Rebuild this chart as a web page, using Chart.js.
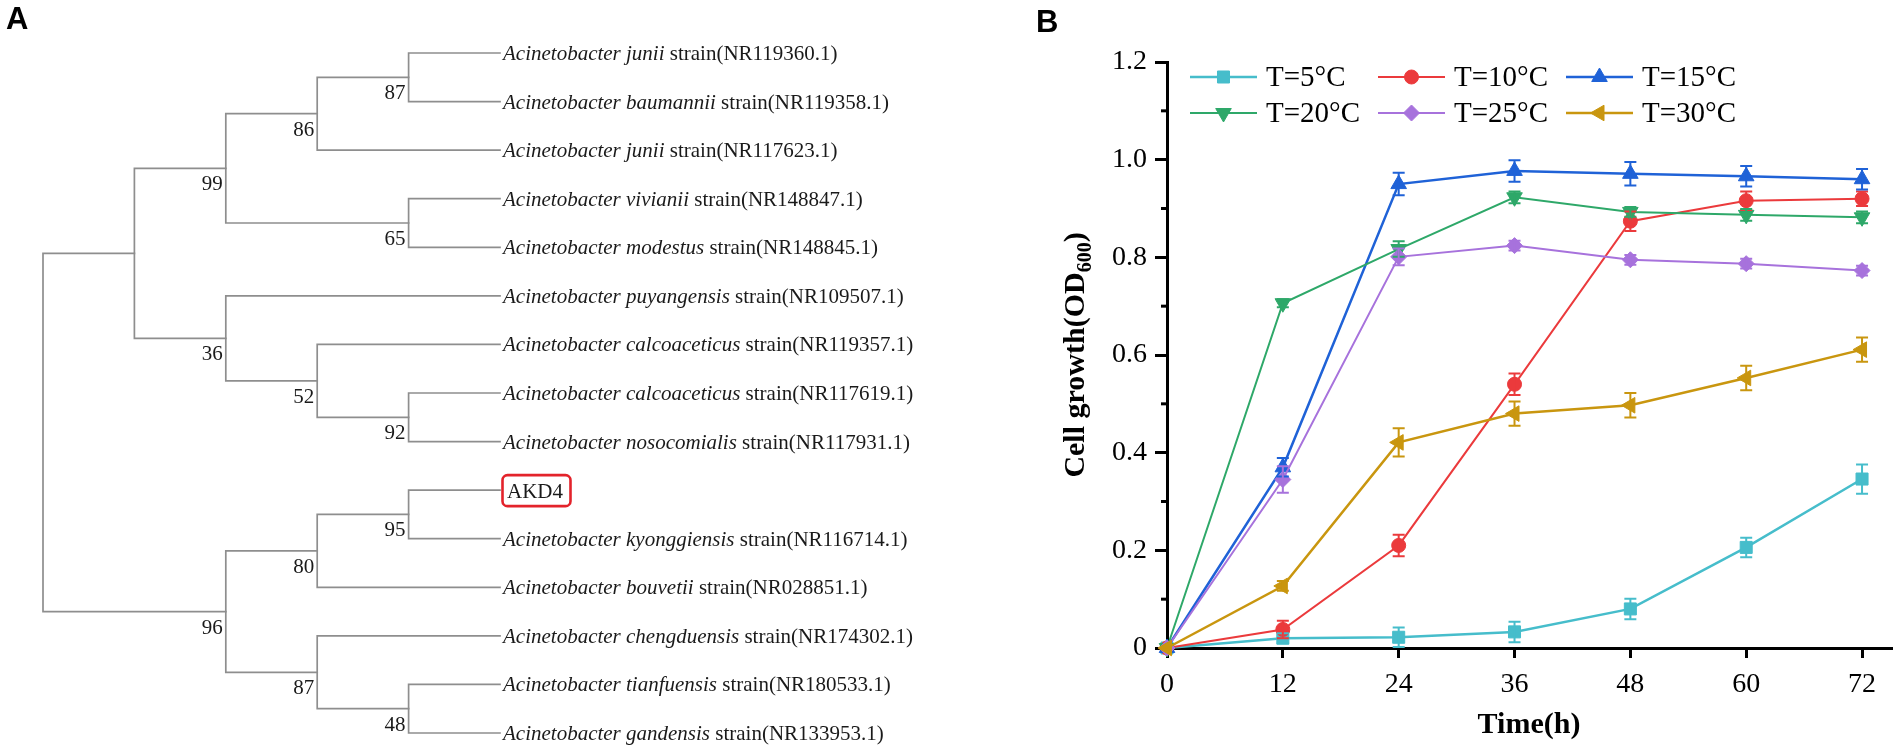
<!DOCTYPE html>
<html><head><meta charset="utf-8">
<script src="https://cdn.jsdelivr.net/npm/chart.js@4.4.1/dist/chart.umd.min.js"></script>
<style>
html,body{margin:0;padding:0;background:#fff;width:1901px;height:751px;overflow:hidden;}
#wrapA{position:absolute;left:0;top:0;width:960px;height:751px;}
#wrapB{position:absolute;left:960px;top:0;width:941px;height:751px;}
.panel{position:absolute;font-family:"Liberation Sans",Arial,sans-serif;font-weight:bold;font-size:31px;line-height:1;color:#000;}
</style></head><body>
<div id="wrapA"><canvas id="treeChart" width="960" height="751"></canvas></div>
<div id="wrapB"><canvas id="growthChart" width="941" height="751"></canvas></div>
<div class="panel" style="left:6px;top:3px">A</div>
<div class="panel" style="left:1036px;top:6px">B</div>
<script>
// ---------- Panel A: phylogenetic tree data ----------
const leafGenus = 'Acinetobacter';
const leafSpecies = ['junii','baumannii','junii','vivianii','modestus','puyangensis','calcoaceticus','calcoaceticus','nosocomialis','','kyonggiensis','bouvetii','chengduensis','tianfuensis','gandensis'];
const leafAccession = ['NR119360.1','NR119358.1','NR117623.1','NR148847.1','NR148845.1','NR109507.1','NR119357.1','NR117619.1','NR117931.1','','NR116714.1','NR028851.1','NR174302.1','NR180533.1','NR133953.1'];
const isolateName = 'AKD4';
const isolateIndex = 9;
const leafDepth = 5;
const nodeNames   = ['n87a','n86','n65','n99','n92','n52','n36','nA','n95','n80','n48','n87b','n96','root'];
const nodeDepth   = [4,3,4,2,4,3,2,1,4,3,4,3,2,0];
const nodeChildA  = ['L0','n87a','L3','n86','L7','L6','L5','n99','L9','n95','L13','L12','n80','nA'];
const nodeChildB  = ['L1','L2','L4','n65','L8','n92','n52','n36','L10','L11','L14','n48','n87b','n96'];
const nodeSupport = [87,86,65,99,92,52,36,null,95,80,48,87,96,null];

// ---------- Panel B: growth curve data ----------
const timeHours = [0,12,24,36,48,60,72];
const seriesLabels = ['T=5°C','T=10°C','T=15°C','T=20°C','T=25°C','T=30°C'];
const od5  = [0,0.020,0.022,0.033,0.080,0.206,0.346];
const od10 = [0,0.038,0.210,0.540,0.874,0.916,0.920];
const od15 = [0,0.370,0.950,0.977,0.971,0.966,0.960];
const od20 = [0,0.706,0.817,0.923,0.893,0.887,0.882];
const od25 = [0,0.345,0.801,0.824,0.795,0.787,0.773];
const od30 = [0,0.127,0.421,0.480,0.497,0.553,0.611];
const err5  = [0,0.010,0.020,0.021,0.021,0.020,0.030];
const err10 = [0,0.018,0.022,0.022,0.020,0.019,0.015];
const err15 = [0,0.019,0.023,0.022,0.024,0.021,0.021];
const err20 = [0,0.008,0.016,0.012,0.010,0.012,0.012];
const err25 = [0,0.027,0.017,0.010,0.010,0.010,0.010];
const err30 = [0,0.010,0.029,0.025,0.025,0.025,0.025];
const xTicks = [0,12,24,36,48,60,72];
const yTicks = [0,0.2,0.4,0.6,0.8,1.0,1.2];
const yMinorTicks = [0.1,0.3,0.5,0.7,0.9,1.1];

const seriesValues = [od5,od10,od15,od20,od25,od30];
const seriesErrors = [err5,err10,err15,err20,err25,err30];
const seriesColors = ['#46BDCB','#EB3A3C','#1F62D7','#2EA869','#A772DC','#C9960F'];
const seriesPointStyle = ['rect','circle','triangle','triangle','rectRot','triangle'];
const seriesRotation = [0,0,0,180,0,270];
const seriesRadius = [8.5,7,9,9,8,9];
const seriesLineWidth = [2.5,2,2.5,2,2,2.5];

const SERIF = '"Liberation Serif","Times New Roman",serif';

// ---------- build tree ----------
function posOf(id){
  if (id[0]==='L') return {x:leafDepth, y:parseInt(id.slice(1),10)};
  const k = nodeNames.indexOf(id);
  const a = posOf(nodeChildA[k]), b = posOf(nodeChildB[k]);
  return {x:nodeDepth[k], y:(a.y+b.y)/2};
}
const treeDatasets = nodeNames.map((nm,k)=>{
  const a = posOf(nodeChildA[k]), b = posOf(nodeChildB[k]);
  const d = nodeDepth[k];
  return {
    data:[{x:a.x,y:a.y},{x:d,y:a.y},{x:d,y:b.y},{x:b.x,y:b.y}],
    showLine:true, borderColor:'#8e8e8e', borderWidth:1.7, pointRadius:0,
    fill:false, tension:0, clip:false, borderJoinStyle:'miter', borderCapStyle:'square'
  };
});

const treeLabels = {
  id:'treeLabels',
  afterDatasetsDraw(chart){
    const ctx = chart.ctx, xs = chart.scales.x, ys = chart.scales.y;
    ctx.save();
    ctx.fillStyle = '#1a1a1a';
    ctx.textBaseline = 'alphabetic';
    const x0 = xs.getPixelForValue(leafDepth);
    for (let i=0;i<leafSpecies.length;i++){
      const py = ys.getPixelForValue(i);
      if (i===isolateIndex){
        ctx.font = '21px '+SERIF;
        const w = ctx.measureText(isolateName).width;
        ctx.textAlign='left';
        ctx.fillText(isolateName, x0+7, py+8);
        ctx.strokeStyle = '#E3232B'; ctx.lineWidth = 2.6;
        ctx.beginPath();
        if (ctx.roundRect) ctx.roundRect(x0+2.5, py-15, w+12, 31, 5); else ctx.rect(x0+2.5, py-15, w+12, 31);
        ctx.stroke();
        continue;
      }
      ctx.textAlign='left';
      ctx.font = 'italic 21px '+SERIF;
      const ital = leafGenus+' '+leafSpecies[i];
      ctx.fillText(ital, x0+3, py+7);
      const w = ctx.measureText(ital).width;
      ctx.font = '21px '+SERIF;
      ctx.fillText(' strain('+leafAccession[i]+')', x0+3+w, py+7);
    }
    ctx.font = '21px '+SERIF;
    ctx.textAlign = 'right';
    nodeNames.forEach((nm,k)=>{
      if (nodeSupport[k]==null) return;
      const p = posOf(nm);
      ctx.fillText(String(nodeSupport[k]), xs.getPixelForValue(p.x)-3, ys.getPixelForValue(p.y)+22);
    });
    ctx.restore();
  }
};

new Chart(document.getElementById('treeChart'), {
  type:'scatter',
  data:{datasets:treeDatasets},
  options:{
    responsive:false, animation:false, events:[], devicePixelRatio:1,
    layout:{padding:{left:43,right:460,top:53,bottom:18}},
    plugins:{legend:{display:false},tooltip:{enabled:false}},
    scales:{
      x:{type:'linear',min:0,max:leafDepth,display:false},
      y:{type:'linear',min:0,max:leafSpecies.length-1,reverse:true,display:false}
    }
  },
  plugins:[treeLabels]
});

// ---------- growth chart ----------
const datasets = seriesValues.map((vals,i)=>({
  label: seriesLabels[i],
  data: timeHours.map((t,j)=>({x:t,y:vals[j]})),
  borderColor: seriesColors[i], backgroundColor: seriesColors[i],
  borderWidth: seriesLineWidth[i], tension:0, fill:false, clip:false,
  pointStyle: seriesPointStyle[i], pointRotation: seriesRotation[i], pointRadius: seriesRadius[i],
  pointBackgroundColor: seriesColors[i], pointBorderColor: seriesColors[i], pointBorderWidth:1,
  order: seriesValues.length - i
}));

const extras = {
  id:'extras',
  afterDatasetsDraw(chart){
    const ctx = chart.ctx, xs = chart.scales.x, ys = chart.scales.y;
    ctx.save();
    seriesValues.forEach((vals,i)=>{
      ctx.strokeStyle = seriesColors[i]; ctx.lineWidth = 2;
      vals.forEach((v,j)=>{
        const e = seriesErrors[i][j]; if (!e) return;
        const px = xs.getPixelForValue(timeHours[j]);
        const t = ys.getPixelForValue(v+e), b = ys.getPixelForValue(v-e);
        ctx.beginPath();
        ctx.moveTo(px,t); ctx.lineTo(px,b);
        ctx.moveTo(px-6,t); ctx.lineTo(px+6,t);
        ctx.moveTo(px-6,b); ctx.lineTo(px+6,b);
        ctx.stroke();
      });
    });
    ctx.restore();
  },
  afterDraw(chart){
    const ctx = chart.ctx, xs = chart.scales.x, ys = chart.scales.y, ca = chart.chartArea;
    ctx.save();
    // minor ticks
    ctx.strokeStyle = '#000'; ctx.lineWidth = 3;
    yMinorTicks.forEach(v=>{
      const py = ys.getPixelForValue(v);
      ctx.beginPath(); ctx.moveTo(ca.left-6,py); ctx.lineTo(ca.left,py); ctx.stroke();
    });
    // y title with subscript
    ctx.translate(ca.left-83,(ca.top+ca.bottom)/2);
    ctx.rotate(-Math.PI/2);
    ctx.fillStyle = '#000'; ctx.textBaseline='alphabetic'; ctx.textAlign='left';
    const main='Cell growth(OD', sub='600', end=')';
    ctx.font = 'bold 30px '+SERIF; const w1 = ctx.measureText(main).width; const w3 = ctx.measureText(end).width;
    ctx.font = 'bold 20px '+SERIF; const w2 = ctx.measureText(sub).width;
    const x0 = -(w1+w2+w3)/2;
    ctx.font = 'bold 30px '+SERIF; ctx.fillText(main,x0,0); ctx.fillText(end,x0+w1+w2,0);
    ctx.font = 'bold 20px '+SERIF; ctx.fillText(sub,x0+w1,7);
    ctx.restore();
    // legend
    ctx.save();
    const left = ca.left + 23;
    seriesLabels.forEach((lab,i)=>{
      const col = i%3, row = Math.floor(i/3);
      const lx = left + col*188, ly = ca.top + 15 + row*36;
      ctx.strokeStyle = seriesColors[i]; ctx.fillStyle = seriesColors[i];
      ctx.lineWidth = seriesLineWidth[i];
      ctx.beginPath(); ctx.moveTo(lx,ly); ctx.lineTo(lx+67,ly); ctx.stroke();
      ctx.lineWidth = 1;
      Chart.helpers.drawPoint(ctx,{pointStyle:seriesPointStyle[i],rotation:seriesRotation[i],radius:seriesRadius[i],borderWidth:1},lx+33.5,ly);
      ctx.fillStyle = '#000'; ctx.font = '29px '+SERIF; ctx.textAlign='left'; ctx.textBaseline='middle';
      ctx.fillText(lab, lx+76, ly+1);
    });
    ctx.restore();
  }
};

new Chart(document.getElementById('growthChart'), {
  type:'line',
  data:{datasets},
  options:{
    responsive:false, animation:false, events:[], devicePixelRatio:1,
    layout:{padding:{left:0,right:8,top:62,bottom:0}},
    plugins:{legend:{display:false},tooltip:{enabled:false}},
    scales:{
      x:{
        type:'linear', min:0, max:75,
        afterBuildTicks:s=>{ s.ticks = xTicks.map(v=>({value:v})); },
        afterFit:s=>{ s.height = 103; },
        border:{display:true,color:'#000',width:3},
        grid:{display:true,drawOnChartArea:false,drawTicks:true,tickLength:10,color:'#000',lineWidth:3},
        ticks:{color:'#000',font:{family:SERIF,size:28},padding:10,maxRotation:0,autoSkip:false,callback:v=>String(v)},
        title:{display:true,text:'Time(h)',color:'#000',font:{family:SERIF,size:30,weight:'bold'},padding:{top:0,bottom:8}}
      },
      y:{
        type:'linear', min:0, max:1.2,
        afterBuildTicks:s=>{ s.ticks = yTicks.map(v=>({value:v})); },
        afterFit:s=>{ s.width = 207; },
        border:{display:true,color:'#000',width:3},
        grid:{display:true,drawOnChartArea:false,drawTicks:true,tickLength:12,color:'#000',lineWidth:3},
        ticks:{color:'#000',font:{family:SERIF,size:28},padding:8,autoSkip:false,callback:v=>v===0?'0':Number(v).toFixed(1)}
      }
    }
  },
  plugins:[extras]
});
</script>
</body></html>
